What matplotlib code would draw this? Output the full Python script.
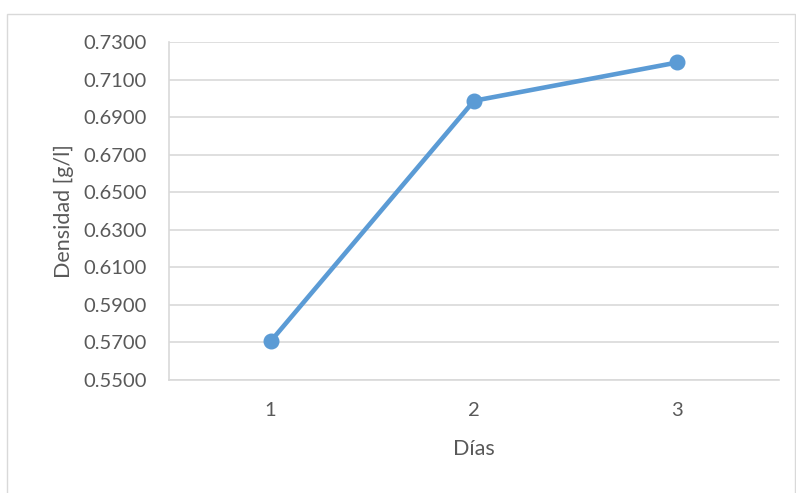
import matplotlib
matplotlib.use("Agg")
import matplotlib.pyplot as plt
from matplotlib.patches import Rectangle
from matplotlib.ticker import FuncFormatter

# Density measured over the days
dias = [1, 2, 3]
densidad = [0.5706, 0.6987, 0.7191]
y_ticks = [0.55, 0.57, 0.59, 0.61, 0.63, 0.65, 0.67, 0.69, 0.71, 0.73]

LINE_BLUE = "#5B9BD5"
GRID_GRAY = "#D9D9D9"
TEXT_GRAY = "#595959"

plt.rcParams["font.family"] = ["Lato", "DejaVu Sans"]

fig = plt.figure(figsize=(7.96, 4.93), dpi=100)
fig.patch.set_facecolor("white")

# Chart frame
fig.add_artist(Rectangle((6.5 / 796, -0.05), (795 - 6.5) / 796, 1.05 - 13.5 / 493,
                         transform=fig.transFigure, fill=False,
                         edgecolor=GRID_GRAY, linewidth=1.0))

ax = fig.add_axes([169 / 796, 1 - 380 / 493, (779 - 169) / 796, (380 - 42) / 493])
ax.plot(dias, densidad, color=LINE_BLUE, linewidth=3.3, marker="o",
        markersize=10.5, solid_capstyle="round", zorder=3, clip_on=False)

ax.set_xlim(0.5, 3.5)
ax.set_ylim(0.55, 0.73)
ax.set_xticks(dias)
ax.set_yticks(y_ticks)
ax.yaxis.set_major_formatter(FuncFormatter(lambda v, _: f"{v:.4f}"))

ax.grid(axis="y", color=GRID_GRAY, linewidth=1.2)
ax.set_axisbelow(True)
for side in ("top", "right"):
    ax.spines[side].set_visible(False)
for side in ("left", "bottom"):
    ax.spines[side].set_color(GRID_GRAY)
    ax.spines[side].set_linewidth(1.2)

ax.tick_params(axis="both", length=0, labelsize=14.5, labelcolor=TEXT_GRAY)
ax.tick_params(axis="y", pad=16)
ax.tick_params(axis="x", pad=16)

ax.set_xlabel("Días", fontsize=15.5, color=TEXT_GRAY, labelpad=14)
ax.set_ylabel("Densidad [g/l]", fontsize=15.5, color=TEXT_GRAY, labelpad=7)

fig.savefig("out.png", dpi=100, facecolor="white")
